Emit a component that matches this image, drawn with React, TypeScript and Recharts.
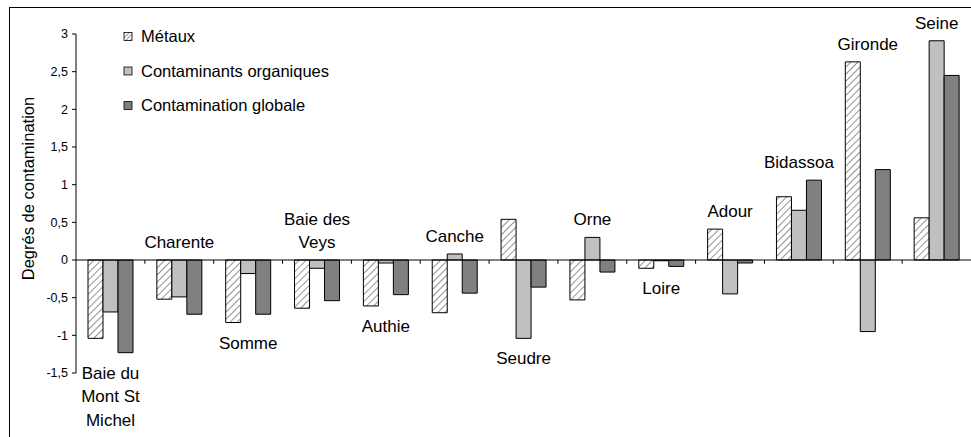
import React from "react";
import { BarChart, Bar, XAxis, YAxis, ReferenceLine, LabelList, Legend } from "recharts";

const categories = [
  "Baie du\nMont St\nMichel",
  "Charente",
  "Somme",
  "Baie des\nVeys",
  "Authie",
  "Canche",
  "Seudre",
  "Orne",
  "Loire",
  "Adour",
  "Bidassoa",
  "Gironde",
  "Seine",
];

const metaux = [-1.04, -0.52, -0.83, -0.64, -0.61, -0.7, 0.54, -0.53, -0.11, 0.41, 0.84, 2.63, 0.56];
const organiques = [-0.69, -0.49, -0.18, -0.11, -0.04, 0.08, -1.04, 0.3, -0.01, -0.45, 0.66, -0.95, 2.91];
const globale = [-1.23, -0.72, -0.72, -0.54, -0.46, -0.44, -0.36, -0.16, -0.085, -0.04, 1.06, 1.2, 2.45];

const labelPlacement = [
  "below", "above", "below", "above", "below", "above", "below", "above", "below",
  "above", "above", "above", "above",
];

const seriesNames = ["Métaux", "Contaminants organiques", "Contamination globale"];
const yTicks = [-1.5, -1, -0.5, 0, 0.5, 1, 1.5, 2, 2.5, 3];

const data = categories.map((name, i) => ({
  name,
  metaux: metaux[i],
  organiques: organiques[i],
  globale: globale[i],
}));

const FONT = "'Liberation Sans', Arial, sans-serif";
const LABEL_SIZE = 17;
const LEGEND_SIZE = 16.5;
const LINE_H = 23.5;

function makeLabel(seriesIdx: number) {
  return (props: any) => {
    const index = props.index;
    const vb = props.viewBox ?? props;
    const { x, y, width, height } = vb;
    if (index == null || x == null) return null;
    const vals = [metaux[index], organiques[index], globale[index]];
    const side = labelPlacement[index];
    const target =
      side === "above" ? vals.indexOf(Math.max(...vals)) : vals.indexOf(Math.min(...vals));
    if (target !== seriesIdx) return null;
    const lo = Math.min(y, y + height);
    const hi = Math.max(y, y + height);
    const cx = x + width / 2 + (1 - seriesIdx) * width;
    const lines = categories[index].split("\n");
    const firstY =
      side === "above" ? lo - 12 - (lines.length - 1) * LINE_H : hi + 26;
    return (
      <text textAnchor="middle" fontSize={LABEL_SIZE} fontFamily={FONT} fill="#000">
        {lines.map((l, k) => (
          <tspan key={k} x={cx} y={firstY + k * LINE_H}>
            {l}
          </tspan>
        ))}
      </text>
    );
  };
}

const LegendBox = () => {
  const fills = ["url(#hatchLegend)", "#c0c0c0", "#808080"];
  return (
    <svg width={400} height={130} style={{ display: "block" }}>
      <defs>
        <pattern
          id="hatchLegend"
          width="3"
          height="3"
          patternUnits="userSpaceOnUse"
          patternTransform="rotate(45)"
        >
          <rect width="3" height="3" fill="#fff" />
          <line x1="0" y1="0" x2="0" y2="3" stroke="#555" strokeWidth="1.2" />
        </pattern>
      </defs>
      {seriesNames.map((n, i) => {
        const c = 36.5 + i * 34.5;
        return (
          <g key={n}>
            <rect x={124} y={c - 4} width={8} height={8} fill={fills[i]} stroke="#000" strokeWidth={0.8} />
            <text x={141} y={c + 5.8} fontSize={LEGEND_SIZE} fontFamily={FONT} fill="#000">
              {n}
            </text>
          </g>
        );
      })}
    </svg>
  );
};

const YTitle = (props: any) => {
  const vb = props.viewBox || { x: 0 };
  const x = (vb.x || 0) + 27.5;
  const y = 188.5;
  return (
    <text
      x={x}
      y={y}
      transform={`rotate(-90, ${x}, ${y})`}
      textAnchor="middle"
      dominantBaseline="central"
      fontSize={LEGEND_SIZE}
      fontFamily={FONT}
      fill="#000"
    >
      Degrés de contamination
    </text>
  );
};

export default function App() {
  return (
    <div
      style={{
        position: "absolute",
        left: 0,
        top: 0,
        width: 971,
        height: 437,
        overflow: "hidden",
        background: "#fff",
      }}
    >
      <div
        style={{
          position: "absolute",
          left: 9,
          top: 7,
          width: 1000,
          height: 500,
          border: "1px solid #000",
          boxSizing: "border-box",
        }}
      />
      <div style={{ position: "absolute", left: 0, top: 0 }}>
        <BarChart
          width={971}
          height={437}
          data={data}
          margin={{ top: 34, right: 0, bottom: 64, left: 0 }}
          barSize={15}
          barGap={0}
          style={{ fontFamily: FONT }}
        >
          <defs>
            <pattern
              id="hatchBar"
              width="5"
              height="5"
              patternUnits="userSpaceOnUse"
              patternTransform="rotate(45)"
            >
              <rect width="5" height="5" fill="#fff" />
              <line x1="0" y1="0" x2="0" y2="5" stroke="#666" strokeWidth="1.4" />
            </pattern>
          </defs>
          <XAxis dataKey="name" hide />
          <YAxis
            width={76}
            domain={[-1.5, 3]}
            ticks={yTicks}
            interval={0}
            allowDataOverflow
            axisLine={{ stroke: "#000" }}
            tickLine={{ stroke: "#000" }}
            tickSize={4}
            tickMargin={4}
            tick={{ fontSize: 12.5, fill: "#000", fontFamily: FONT }}
            tickFormatter={(v: number) => String(v).replace(".", ",")}
            label={<YTitle />}
          />
          <Legend
            layout="vertical"
            align="center"
            verticalAlign="middle"
            wrapperStyle={{ left: 0, top: 0, width: 400, height: 130 }}
            content={() => <LegendBox />}
          />
          <Bar dataKey="metaux" name={seriesNames[0]} fill="url(#hatchBar)" stroke="#000" strokeWidth={1} isAnimationActive={false}>
            <LabelList dataKey="metaux" content={makeLabel(0)} />
          </Bar>
          <Bar dataKey="organiques" name={seriesNames[1]} fill="#c0c0c0" stroke="#000" strokeWidth={1} isAnimationActive={false}>
            <LabelList dataKey="organiques" content={makeLabel(1)} />
          </Bar>
          <Bar dataKey="globale" name={seriesNames[2]} fill="#808080" stroke="#000" strokeWidth={1} isAnimationActive={false}>
            <LabelList dataKey="globale" content={makeLabel(2)} />
          </Bar>
          <ReferenceLine y={0} stroke="#000" strokeWidth={1} />
          {categories.slice(1).map((c) => (
            <ReferenceLine
              key={c}
              segment={[
                { x: c, y: 0 },
                { x: c, y: -0.05 },
              ]}
              position="start"
              stroke="#000"
              strokeWidth={1}
            />
          ))}
        </BarChart>
      </div>
    </div>
  );
}
